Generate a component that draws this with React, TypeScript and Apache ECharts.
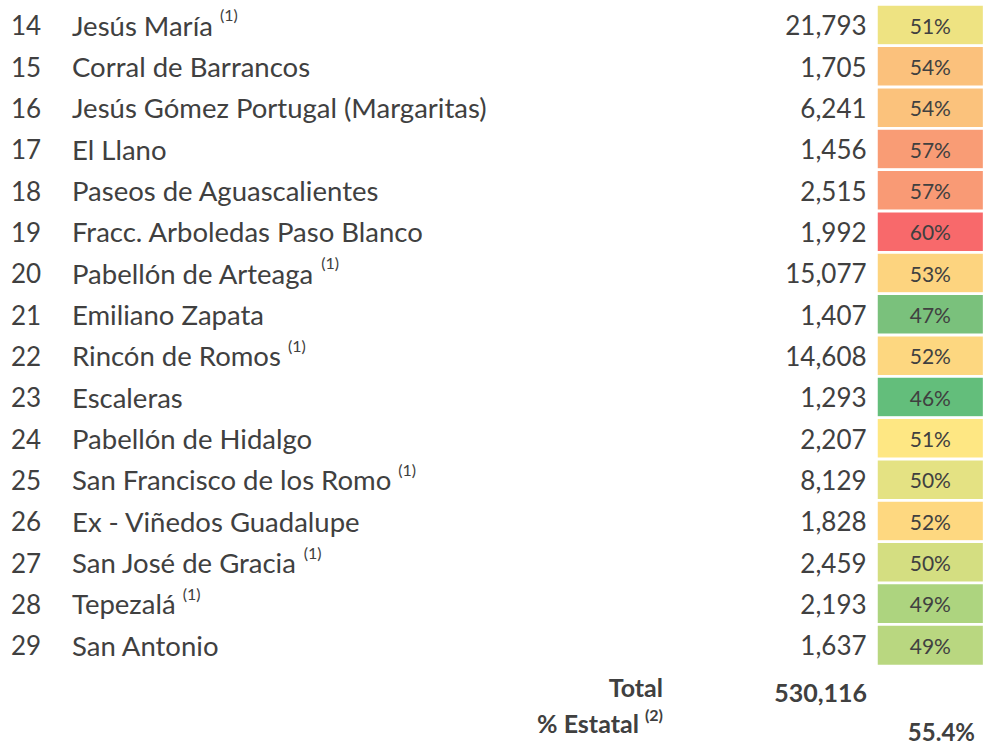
import React, { useEffect, useRef } from "react";
import * as echarts from "echarts";

const rowNumbers = [14, 15, 16, 17, 18, 19, 20, 21, 22, 23, 24, 25, 26, 27, 28, 29];
const localities = [
  "Jesús María",
  "Corral de Barrancos",
  "Jesús Gómez Portugal (Margaritas)",
  "El Llano",
  "Paseos de Aguascalientes",
  "Fracc. Arboledas Paso Blanco",
  "Pabellón de Arteaga",
  "Emiliano Zapata",
  "Rincón de Romos",
  "Escaleras",
  "Pabellón de Hidalgo",
  "San Francisco de los Romo",
  "Ex - Viñedos Guadalupe",
  "San José de Gracia",
  "Tepezalá",
  "San Antonio",
];
const notes = ["(1)", "", "", "", "", "", "(1)", "", "(1)", "", "", "(1)", "", "(1)", "(1)", ""];
const population = [21793, 1705, 6241, 1456, 2515, 1992, 15077, 1407, 14608, 1293, 2207, 8129, 1828, 2459, 2193, 1637];
const sharePct = [51, 54, 54, 57, 57, 60, 53, 47, 52, 46, 51, 50, 52, 50, 49, 49];
const shareColors = [
  "#EEE382", "#FBC17C", "#FBC27C", "#F99C75", "#F99A75", "#F8696B", "#FDD47F", "#7AC17C",
  "#FDD780", "#63BE7B", "#FEE783", "#E4E283", "#FED880", "#D4DE81", "#ADD47F", "#B9D780",
];
const totalPopulation = 530116;
const stateShare = 55.4;
const totalLabel = "Total";
const stateLabel = "% Estatal";
const stateNote = "(2)";

const FONT = "Lato";
const INK = "#404040";

const fmt = (n: number) => n.toLocaleString("en-US");

export default function App() {
  const ref = useRef<HTMLDivElement>(null);
  useEffect(() => {
    if (!ref.current) return;
    const chart = echarts.init(ref.current, null, { renderer: "svg" });
    const gridLeft = 876.6;
    const gridTop = 4.6;
    const rowPitch = 41.33;
    const option: any = {
      animation: false,
      backgroundColor: "#ffffff",
      grid: {
        left: gridLeft,
        top: gridTop,
        width: 984 - gridLeft + 2,
        height: rowPitch * localities.length,
      },
      xAxis: { type: "category", data: ["share"], show: false },
      yAxis: [
        {
          type: "category",
          data: localities,
          inverse: true,
          axisLine: { show: false },
          axisTick: { show: false },
          splitLine: { show: false },
          axisLabel: {
            interval: 0,
            margin: 10,
            align: "right",
            fontFamily: FONT,
            fontSize: 26,
            color: INK,
            formatter: (_v: string, i: number) => fmt(population[i]),
          },
        },
        {
          type: "category",
          data: localities,
          inverse: true,
          position: "left",
          offset: gridLeft - 11,
          axisLine: { show: false },
          axisTick: { show: false },
          splitLine: { show: false },
          axisLabel: {
            interval: 0,
            margin: 0,
            align: "left",
            formatter: (v: string, i: number) =>
              `{num|${rowNumbers[i]}}{name|${v}}` + (notes[i] ? `{name| }{sup|${notes[i]}}` : ""),
            rich: {
              num: { width: 61, fontFamily: FONT, fontSize: 26, color: INK, lineHeight: 37 },
              name: { fontFamily: FONT, fontSize: 27.5, color: INK, lineHeight: 37 },
              sup: { fontFamily: FONT, fontSize: 16, color: INK, lineHeight: 16, verticalAlign: "top" },
            },
          },
        },
      ],
      visualMap: {
        type: "piecewise",
        show: false,
        dimension: 1,
        seriesIndex: 0,
        pieces: shareColors.map((c, i) => ({ value: i, color: c })),
      },
      series: [
        {
          type: "heatmap",
          xAxisIndex: 0,
          yAxisIndex: 0,
          data: sharePct.map((v, i) => [0, i, v]),
          itemStyle: { borderColor: "#ffffff", borderWidth: 2.8 },
          label: {
            show: true,
            fontFamily: FONT,
            fontSize: 21,
            color: INK,
            formatter: (p: any) => `${p.value[2]}%`,
          },
          emphasis: { disabled: true },
        },
      ],
      graphic: [
        {
          type: "text",
          x: 663,
          y: 687,
          style: { text: totalLabel, font: `bold 25px ${FONT}`, fill: INK, align: "right", verticalAlign: "middle" },
        },
        {
          type: "text",
          x: 867,
          y: 692,
          style: { text: fmt(totalPopulation), font: `bold 25px ${FONT}`, fill: INK, align: "right", verticalAlign: "middle" },
        },
        {
          type: "text",
          x: 663,
          y: 723,
          style: {
            text: `{b|${stateLabel} }{s|${stateNote}}`,
            align: "right",
            verticalAlign: "middle",
            rich: {
              b: { fontFamily: FONT, fontWeight: "bold", fontSize: 25, fill: INK, lineHeight: 34 },
              s: { fontFamily: FONT, fontWeight: "bold", fontSize: 16, fill: INK, lineHeight: 16, verticalAlign: "top" },
            },
          },
        },
        {
          type: "text",
          x: 975,
          y: 731,
          style: { text: `${stateShare}%`, font: `bold 24px ${FONT}`, fill: INK, align: "right", verticalAlign: "middle" },
        },
      ],
    };
    chart.setOption(option);
    return () => chart.dispose();
  }, []);
  return (
    <div
      ref={ref}
      style={{ position: "fixed", left: 0, top: 0, width: 984, height: 746, background: "#fff" }}
    />
  );
}
